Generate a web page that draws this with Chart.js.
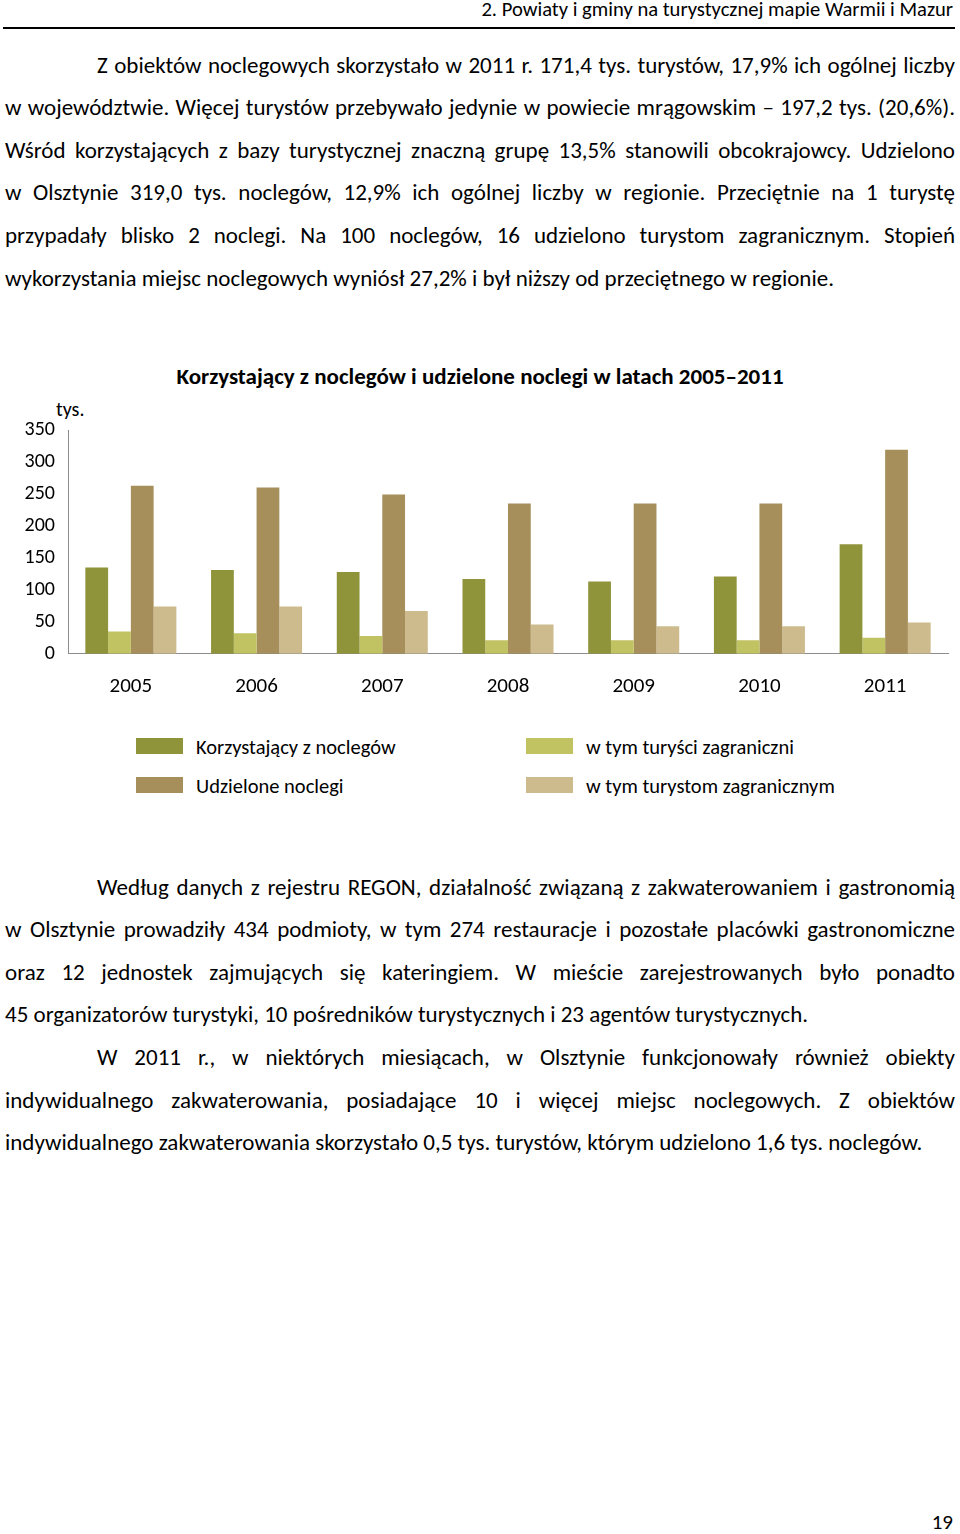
<!DOCTYPE html>
<html>
<head>
<meta charset="utf-8">
<script src="https://cdn.jsdelivr.net/npm/chart.js@4.4.0/dist/chart.umd.min.js"></script>
<style>
  body { margin: 0; width: 960px; height: 1534px; background: #fff; position: relative;
         font-family: Carlito, Calibri, Lato, sans-serif; color: #000; overflow: hidden; }
  .header { position: absolute; right: 7px; top: -4px; font-size: 20.6px; }
  .rule { position: absolute; left: 3px; width: 952px; top: 27px; height: 2px; background: #000; }
  .para { position: absolute; left: 5px; width: 950px; font-size: 23px; }
  .para div { line-height: 42.6px; height: 42.6px; white-space: nowrap; text-align: justify; text-align-last: justify; }
  .para div.last { text-align-last: left; }
  .para div.ind { padding-left: 92px; }
  .title { position: absolute; left: 0; width: 960px; top: 362px; text-align: center; font-weight: bold; font-size: 23px; }
  .unit { position: absolute; left: 56px; top: 397px; font-size: 20px; }
  #wrap { position: absolute; left: 0; top: 400px; width: 960px; height: 332px; }
  .legend { position: absolute; font-size: 20.5px; }
  .legend span.box { position: absolute; width: 47px; height: 16px; }
  .legend span.lab { position: absolute; white-space: nowrap; }
  .pnum { position: absolute; right: 7px; top: 1509px; font-size: 21px; }
</style>
</head>
<body>
<div class="header">2. Powiaty i gminy na turystycznej mapie Warmii i Mazur</div>
<div class="rule"></div>

<div class="para" id="p1" style="top:43.7px"></div>

<div class="title">Korzystający z noclegów i udzielone noclegi w latach 2005–2011</div>
<div class="unit">tys.</div>
<div id="wrap"><canvas id="chart"></canvas></div>
<div id="legend"></div>

<div class="para" id="p2" style="top:865.7px"></div>

<div class="pnum">19</div>

<script>
// dane wykresu (tys.)
const years = ["2005", "2006", "2007", "2008", "2009", "2010", "2011"];
const korzystajacy = [135, 131, 128, 117, 113, 121, 171.4];
const turysciZagr = [35, 32, 28, 21, 21, 21, 25];
const udzielone = [263, 260, 249, 235, 235, 235, 319];
const turystomZagr = [74, 74, 67, 46, 43, 43, 49];
const yTicks = [0, 50, 100, 150, 200, 250, 300, 350];

const seriesNames = ["Korzystający z noclegów", "w tym turyści zagraniczni", "Udzielone noclegi", "w tym turystom zagranicznym"];
const seriesColors = ["#8f943a", "#c1c262", "#a68f5a", "#cdbb8e"];

/* ===== TEKST ===== */
const text1 = [
  ["ind", "Z obiektów noclegowych skorzystało w 2011 r. 171,4 tys. turystów, 17,9% ich ogólnej liczby"],
  ["", "w województwie. Więcej turystów przebywało jedynie w powiecie mrągowskim – 197,2 tys. (20,6%)."],
  ["", "Wśród korzystających z bazy turystycznej znaczną grupę 13,5% stanowili obcokrajowcy. Udzielono"],
  ["", "w Olsztynie 319,0 tys. noclegów, 12,9% ich ogólnej liczby w regionie. Przeciętnie na 1 turystę"],
  ["", "przypadały blisko 2 noclegi. Na 100 noclegów, 16 udzielono turystom zagranicznym. Stopień"],
  ["last", "wykorzystania miejsc noclegowych wyniósł 27,2% i był niższy od przeciętnego w regionie."]
];
const text2 = [
  ["ind", "Według danych z rejestru REGON, działalność związaną z zakwaterowaniem i gastronomią"],
  ["", "w Olsztynie prowadziły 434 podmioty, w tym 274 restauracje i pozostałe placówki gastronomiczne"],
  ["", "oraz 12 jednostek zajmujących się kateringiem. W mieście zarejestrowanych było ponadto"],
  ["last", "45 organizatorów turystyki, 10 pośredników turystycznych i 23 agentów turystycznych."],
  ["ind", "W 2011 r., w niektórych miesiącach, w Olsztynie funkcjonowały również obiekty"],
  ["", "indywidualnego zakwaterowania, posiadające 10 i więcej miejsc noclegowych. Z  obiektów"],
  ["last", "indywidualnego zakwaterowania skorzystało 0,5 tys. turystów, którym udzielono 1,6 tys. noclegów."]
];
function fill(id, lines) {
  const el = document.getElementById(id);
  lines.forEach(l => {
    const d = document.createElement("div");
    if (l[0]) d.className = l[0];
    d.textContent = l[1];
    el.appendChild(d);
  });
}
fill("p1", text1);
fill("p2", text2);

/* ===== LEGENDA ===== */
const legendPos = [[136, 738], [526, 738], [136, 777], [526, 777]];
const leg = document.getElementById("legend");
seriesNames.forEach((name, i) => {
  const d = document.createElement("div");
  d.className = "legend";
  d.style.left = legendPos[i][0] + "px";
  d.style.top = legendPos[i][1] + "px";
  d.innerHTML = '<span class="box" style="left:0;top:0;background:' + seriesColors[i] + '"></span>' +
    '<span class="lab" style="left:60px;top:-4px">' + name + '</span>';
  leg.appendChild(d);
});

/* ===== WYKRES ===== */
const font = "Carlito, Calibri, Lato, sans-serif";
new Chart(document.getElementById("chart"), {
  type: "bar",
  data: {
    labels: years,
    datasets: [korzystajacy, turysciZagr, udzielone, turystomZagr].map((d, i) => ({
      label: seriesNames[i],
      data: d,
      backgroundColor: seriesColors[i],
      categoryPercentage: 0.724,
      barPercentage: 1
    }))
  },
  options: {
    responsive: true,
    maintainAspectRatio: false,
    animation: false,
    layout: { padding: { top: 30, right: 12, bottom: 13, left: 0 } },
    plugins: { legend: { display: false }, tooltip: { enabled: false } },
    scales: {
      x: {
        grid: { display: false, drawTicks: false },
        border: { color: "#8c8c8c" },
        ticks: { color: "#000", font: { family: font, size: 21 }, padding: 20 }
      },
      y: {
        min: yTicks[0],
        max: yTicks[yTicks.length - 1],
        afterBuildTicks: s => { s.ticks = yTicks.map(v => ({ value: v })); },
        afterFit: s => { s.width = 68; },
        grid: { display: false, drawTicks: false },
        border: { color: "#8c8c8c" },
        ticks: { color: "#000", font: { family: font, size: 20 }, padding: 13 }
      }
    }
  }
});
</script>
</body>
</html>
